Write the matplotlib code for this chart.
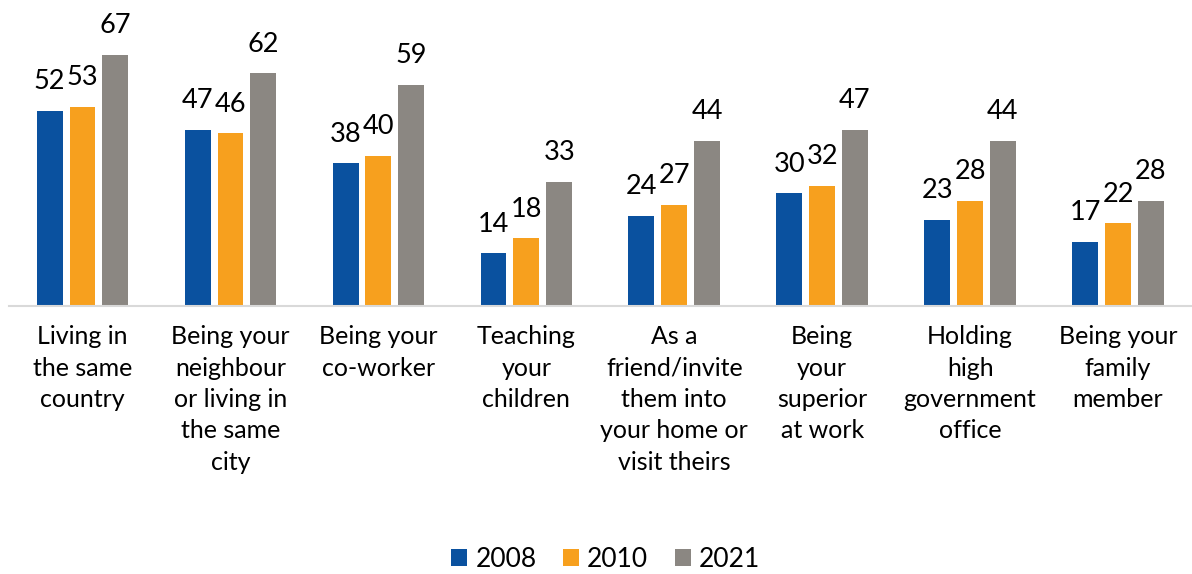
import numpy as np
import matplotlib.pyplot as plt
from matplotlib.patches import Patch

plt.rcParams['font.family'] = ['Lato', 'DejaVu Sans']

# Данные по категориям и годам
categories = [
    'Living in\nthe same\ncountry',
    'Being your\nneighbour\nor living in\nthe same\ncity',
    'Being your\nco-worker',
    'Teaching\nyour\nchildren',
    'As a\nfriend/invite\nthem into\nyour home or\nvisit theirs',
    'Being\nyour\nsuperior\nat work',
    'Holding\nhigh\ngovernment\noffice',
    'Being your\nfamily\nmember',
]
years = ['2008', '2010', '2021']
vals_2008 = [52, 47, 38, 14, 24, 30, 23, 17]
vals_2010 = [53, 46, 40, 18, 27, 32, 28, 22]
vals_2021 = [67, 62, 59, 33, 44, 47, 44, 28]
colors = ['#0a519f', '#f7a01e', '#8b8782']

fig = plt.figure(figsize=(11.92, 5.74), dpi=100)
ax = fig.add_axes([0.0072, 0.467, 0.9928, 0.523])

x = np.arange(len(categories))
width = 0.175
step = 0.222

for i, (vals, c) in enumerate(zip([vals_2008, vals_2010, vals_2021], colors)):
    pos = x + (i - 1) * step
    bars = ax.bar(pos, vals, width=width, color=c, zorder=2)
    for b, v in zip(bars, vals):
        ax.annotate(str(v), (b.get_x() + b.get_width() / 2, v),
                    xytext=(0, 12), textcoords='offset points',
                    ha='center', va='bottom', fontsize=19.5)

ax.set_xlim(-0.5, len(categories) - 0.5)
ax.set_ylim(0, 80)
ax.set_yticks([])
ax.set_xticks(x)
ax.set_xticklabels(categories, fontsize=18, linespacing=1.44, va='top')
ax.tick_params(axis='x', length=0, pad=14)
for s in ['top', 'right', 'left']:
    ax.spines[s].set_visible(False)
ax.spines['bottom'].set_color('#d9d9d9')
ax.spines['bottom'].set_linewidth(1.5)

handles = [Patch(facecolor=c, label=y) for c, y in zip(colors, years)]
fig.legend(handles=handles, loc='center', bbox_to_anchor=(0.508, 0.026),
           ncol=3, frameon=False, fontsize=19, handlelength=0.62,
           handleheight=0.62, handletextpad=0.3, columnspacing=1.0)

fig.savefig('out.png', dpi=100)
